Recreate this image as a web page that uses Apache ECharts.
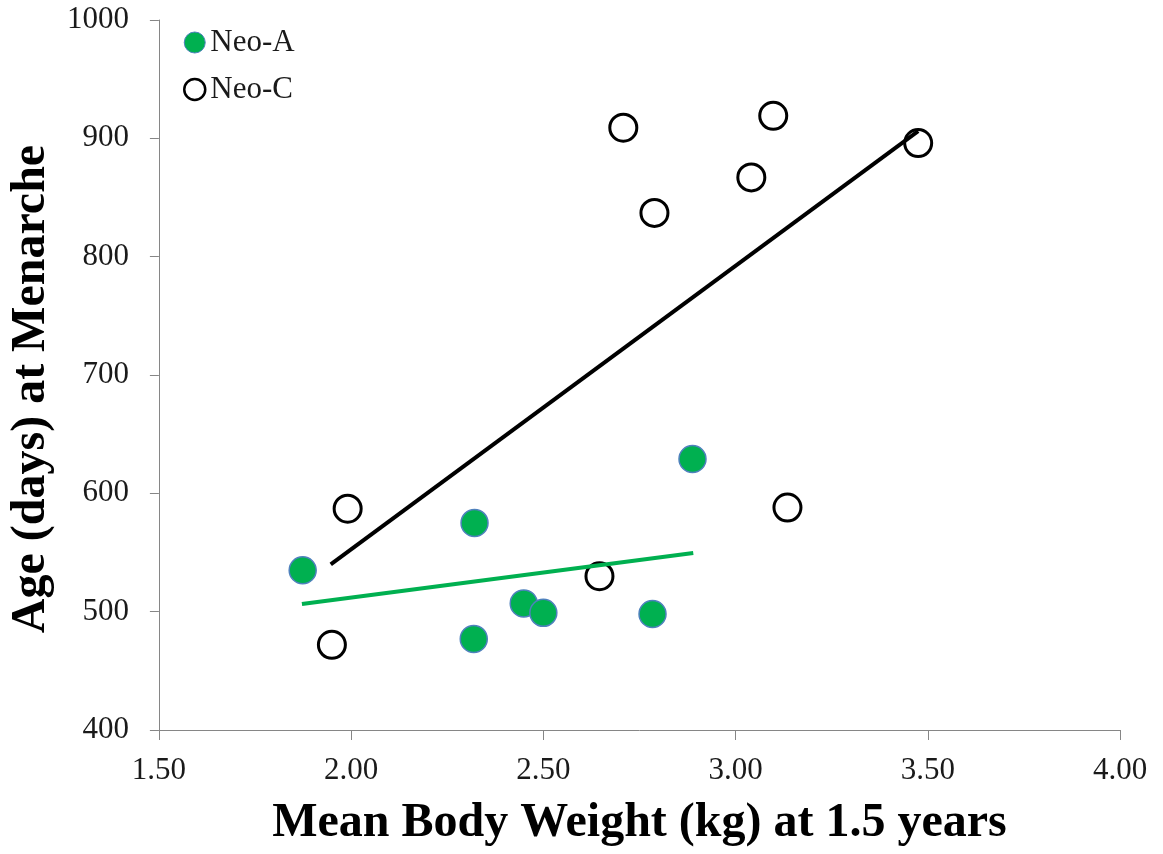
<!DOCTYPE html>
<html>
<head>
<meta charset="utf-8">
<script src="https://cdn.jsdelivr.net/npm/echarts@6/dist/echarts.min.js"></script>
<style>
html,body{margin:0;padding:0;background:#fff;}
#chart{width:1163px;height:854px;}
</style>
</head>
<body>
<div id="chart"></div>
<script>
// Data
const seriesNames = ['Neo-A', 'Neo-C'];
const neoAWeight = [1.874, 2.321, 2.319, 2.449, 2.500, 2.784, 2.888];
const neoAAge    = [535,   575,   477,   507,   499,   498,   629];
const neoCWeight = [1.950, 1.991, 2.646, 2.708, 2.789, 3.041, 3.098, 3.135, 3.475];
const neoCAge    = [472,   587,   530,   909,   837,   867,   919,   588,   896];
// trend line end points (as drawn)
const neoATrendX = [1.872, 2.890];
const neoATrendY = [506.5, 549.5];
const neoCTrendX = [1.947, 3.475];
const neoCTrendY = [540, 906];
const xTicks = {min: 1.5, max: 4.0, step: 0.5};
const yTicks = {min: 400, max: 1000, step: 100};

const pairs = (xs, ys) => xs.map((x, i) => [x, ys[i]]);
const FONT = '"Liberation Serif", "Times New Roman", serif';
const GREEN = '#00B050';

const chart = echarts.init(document.getElementById('chart'), null, {renderer: 'canvas'});
chart.setOption({
  backgroundColor: '#ffffff',
  animation: false,
  grid: {left: 157, right: 43, top: 20, bottom: 124, containLabel: false},
  legend: {
    orient: 'vertical',
    left: 178,
    top: 22,
    itemGap: 16,
    itemWidth: 21,
    itemHeight: 21,
    textStyle: {fontFamily: FONT, fontSize: 31, color: '#1a1a1a'},
    data: [
      {name: seriesNames[0], icon: 'circle', itemStyle: {color: GREEN, borderColor: '#4F81BD', borderWidth: 1}},
      {name: seriesNames[1], icon: 'circle', itemStyle: {color: '#ffffff', borderColor: '#000', borderWidth: 2.5}}
    ]
  },
  xAxis: {
    type: 'value',
    min: xTicks.min, max: xTicks.max, interval: xTicks.step,
    name: 'Mean Body Weight (kg) at 1.5 years',
    nameLocation: 'middle',
    nameGap: 70,
    nameTextStyle: {fontFamily: FONT, fontSize: 48, fontWeight: 'bold', color: '#000'},
    axisLine: {show: true, onZero: false, lineStyle: {color: '#868686', width: 1}},
    axisTick: {show: true, inside: false, length: 10, lineStyle: {color: '#868686'}},
    axisLabel: {fontFamily: FONT, fontSize: 31, color: '#1a1a1a', margin: 25,
      formatter: v => v.toFixed(2)},
    splitLine: {show: false}
  },
  yAxis: {
    type: 'value',
    min: yTicks.min, max: yTicks.max, interval: yTicks.step,
    name: 'Age (days) at Menarche',
    nameLocation: 'middle',
    nameRotate: 90,
    nameGap: 92,
    nameTextStyle: {fontFamily: FONT, fontSize: 48, fontWeight: 'bold', color: '#000', padding: [0, 28, 0, 0]},
    axisLine: {show: true, onZero: false, lineStyle: {color: '#868686', width: 1}},
    axisTick: {show: true, inside: false, length: 9, lineStyle: {color: '#868686'}},
    axisLabel: {fontFamily: FONT, fontSize: 31, color: '#1a1a1a', margin: 30,
      formatter: v => String(v)},
    splitLine: {show: false}
  },
  series: [
    {
      name: seriesNames[1],
      type: 'scatter',
      data: pairs(neoCWeight, neoCAge),
      symbol: 'circle',
      symbolSize: 27,
      itemStyle: {color: '#ffffff', borderColor: '#000000', borderWidth: 3, opacity: 1},
      z: 2
    },
    {
      name: seriesNames[0],
      type: 'scatter',
      data: pairs(neoAWeight, neoAAge),
      symbol: 'circle',
      symbolSize: 27,
      itemStyle: {color: GREEN, borderColor: '#4F81BD', borderWidth: 1.5, opacity: 1},
      z: 3
    },
    {
      name: 'Neo-A trend',
      type: 'line',
      data: pairs(neoATrendX, neoATrendY),
      showSymbol: false,
      symbol: 'none',
      lineStyle: {color: GREEN, width: 4},
      z: 4
    },
    {
      name: 'Neo-C trend',
      type: 'line',
      data: pairs(neoCTrendX, neoCTrendY),
      showSymbol: false,
      symbol: 'none',
      lineStyle: {color: '#000000', width: 4},
      z: 4
    }
  ]
});
</script>
</body>
</html>
